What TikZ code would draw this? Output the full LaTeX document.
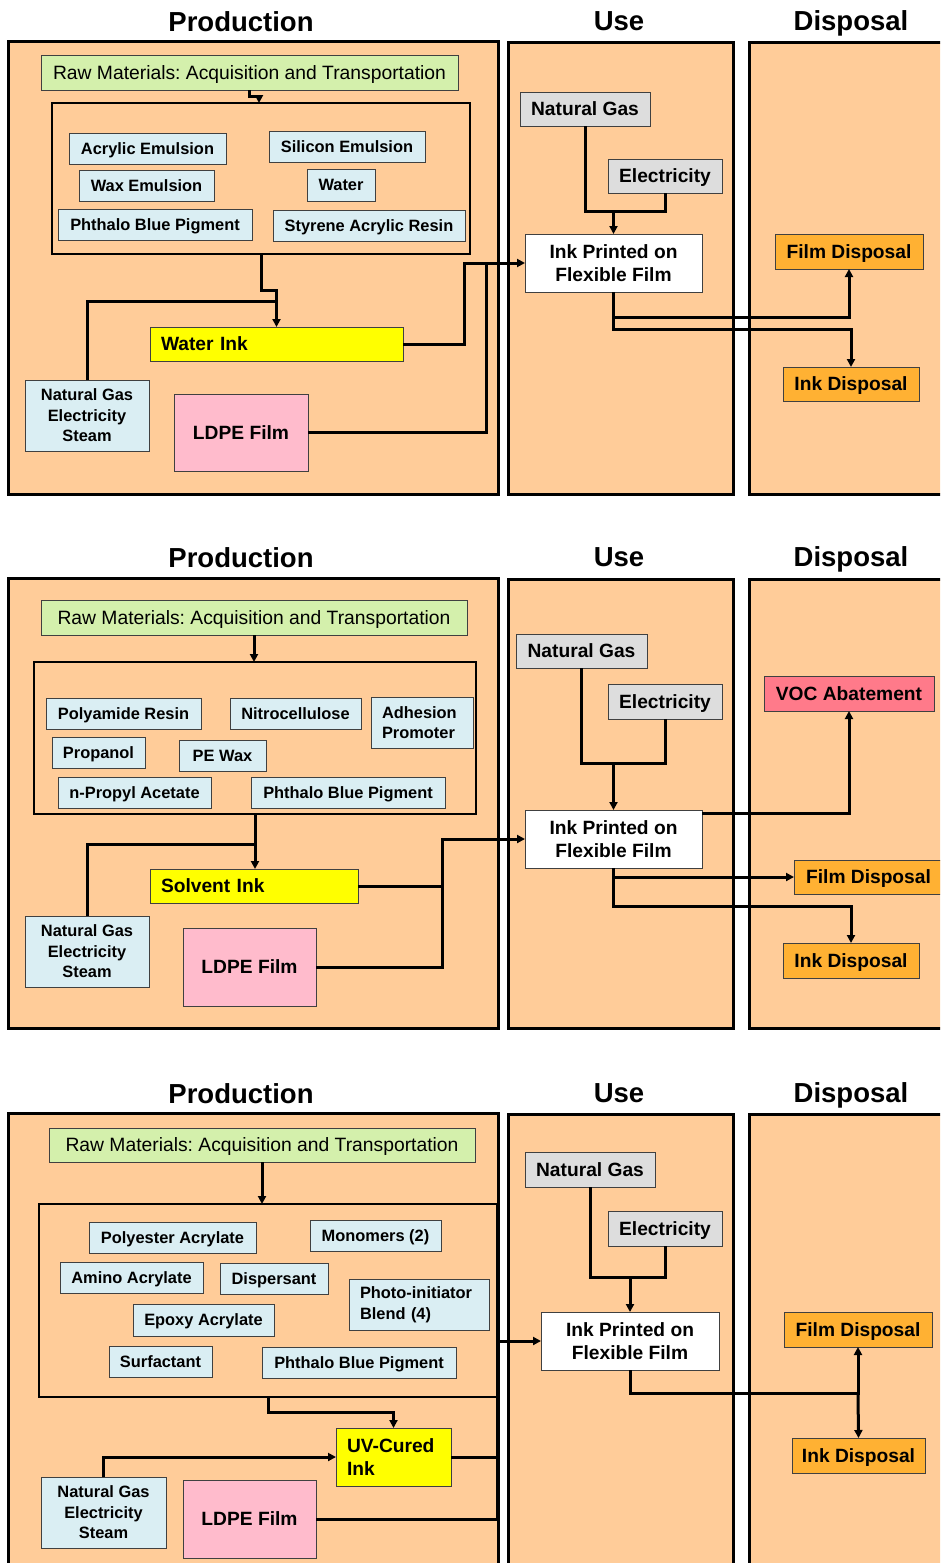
\documentclass[tikz,border=0pt]{standalone}
\usepackage{fontspec}
\setmainfont{Liberation Sans}
\usetikzlibrary{arrows.meta}
\frenchspacing
\definecolor{peach}{HTML}{FFCC99}
\definecolor{lblue}{HTML}{DAEEF3}
\definecolor{lgreen}{HTML}{D4F0AC}
\definecolor{lgray}{HTML}{DDDDDD}
\definecolor{dorange}{HTML}{FFB133}
\definecolor{vocred}{HTML}{FF7A8A}
\definecolor{ldpepink}{HTML}{FFBBCC}
\definecolor{inkyellow}{HTML}{FFFF00}
\definecolor{itemline}{HTML}{404040}
\newcommand\mybox[7]{\node[#2, minimum width={(#5)-(#3)}, minimum height={(#6)-(#4)}] (#1) at ({((#3)+(#5))/2},{((#4)+(#6))/2}) {#7};}
\tikzset{
  panelbox/.style={draw=black, line width=3pt, fill=peach},
  titletext/.style={anchor=base, inner sep=0pt, font=\fontsize{27.5}{33}\selectfont\bfseries},
  ingrbox/.style={draw=black, line width=1.5pt, inner sep=0pt, outer sep=0pt},
  itemml/.style={draw=itemline, line width=1pt, fill=lblue, inner sep=0pt, outer sep=0pt, align=center, font=\fontsize{16.4}{20.5}\selectfont\bfseries},
  itembox/.style={itemml, text height=11.8pt, text depth=0pt},
  leftitem/.style={itemml, align=left, text width=#1, inner xsep=11pt},
  rawbox/.style={draw=itemline, line width=1pt, fill=lgreen, inner sep=0pt, outer sep=0pt, font=\fontsize{19.3}{23}\selectfont, text height=13.9pt, text depth=0pt},
  bigml/.style={draw=itemline, line width=1pt, inner sep=0pt, outer sep=0pt, align=center, font=\fontsize{19.2}{23}\selectfont\bfseries},
  bigbox/.style={bigml, text height=13.8pt, text depth=0pt},
  inkbox/.style={bigbox, fill=inkyellow, align=left, text width=#1, inner xsep=11pt},
  inkml/.style={bigml, fill=inkyellow, align=left, text width=#1, inner xsep=11pt},
  gasbox/.style={bigbox, fill=lgray},
  printbox/.style={bigml, fill=white},
  dispbox/.style={bigbox, fill=dorange},
  vocbox/.style={bigbox, fill=vocred},
  ldpebox/.style={bigbox, fill=ldpepink},
  conn/.style={line width=3pt, line join=miter},
  connarr/.style={conn, -{Triangle[length=8pt,width=8pt]}}
}
\begin{document}
\begin{tikzpicture}[x=1pt,y=-1pt]
\useasboundingbox (0,0) rectangle (940,1563);
\clip (0,0) rectangle (940,1563);
% ---------- panel 1 ----------
\node[titletext] (t1p) at (241,32) {Production};
\node[titletext] (t1u) at (619,31) {Use};
\node[titletext] (t1d) at (851,31) {Disposal};
\draw[panelbox] (8.5,42) rectangle (498.5,494);
\draw[panelbox] (508.5,43) rectangle (733.5,494);
\draw[panelbox] (749.7,43) rectangle (980,494);
\mybox{rm1}{rawbox}{41}{56}{458}{90}{Raw Materials: Acquisition and Transportation}
\mybox{ing1}{ingrbox}{52}{103}{470}{254}{}
\mybox{a1}{itembox}{69}{133}{226}{164}{Acrylic Emulsion}
\mybox{a2}{itembox}{269}{131}{425}{162}{Silicon Emulsion}
\mybox{a3}{itembox}{79}{170}{214}{201}{Wax Emulsion}
\mybox{a4}{itembox}{307}{169}{375}{201}{Water}
\mybox{a5}{itembox}{58}{209}{252}{240}{Phthalo Blue Pigment}
\mybox{a6}{itembox}{273}{210}{465}{241}{Styrene Acrylic Resin}
\mybox{wi}{inkbox=231pt}{150}{327}{403}{361}{Water Ink}
\mybox{ngp1}{itemml}{25}{380}{149}{451}{Natural Gas\\Electricity\\Steam}
\mybox{ldpe1}{ldpebox}{174}{394}{308}{471}{LDPE Film}
\mybox{ng1}{gasbox}{520}{92}{650}{126}{Natural Gas}
\mybox{el1}{gasbox}{608}{159}{722}{193}{Electricity}
\mybox{ip1}{printbox}{525}{234}{702}{292}{Ink Printed on\\Flexible Film}
\mybox{fd1}{dispbox}{775}{234}{923}{269}{Film Disposal}
\mybox{id1}{dispbox}{783}{367}{919}{401}{Ink Disposal}
\draw[connarr] (rm1.south) -- ++(0,6) -| ([xshift=-2pt]ing1.north);
\draw[conn] (ngp1.north) |- ([yshift=26pt]wi.north);
\draw[connarr] (ing1.south) -- ++(0,36) -| (wi.north);
\draw[connarr] (wi.east) -| ([xshift=-61pt]ip1.west) -- (ip1.west);
\draw[conn] (ldpe1.east) -| ([xshift=-39pt]ip1.west);
\draw[conn] (ng1.south) |- ([yshift=23pt]ip1.north) -| (el1.south);
\draw[connarr] ([yshift=23pt]ip1.north) -- (ip1.north);
\draw[connarr] (ip1.south) -- ++(0,25) -| (fd1.south);
\draw[connarr] (ip1.south) -- ++(0,37) -| (id1.north);
% ---------- panel 2 ----------
\node[titletext] (t2p) at (241,567) {Production};
\node[titletext] (t2u) at (619,566) {Use};
\node[titletext] (t2d) at (851,566) {Disposal};
\draw[panelbox] (8.5,578) rectangle (498.5,1028.5);
\draw[panelbox] (508.5,579) rectangle (733.5,1028.5);
\draw[panelbox] (749.7,579) rectangle (980,1028.5);
\mybox{rm2}{rawbox}{41}{600}{467}{635}{Raw Materials: Acquisition and Transportation}
\mybox{ing2}{ingrbox}{34}{662}{476}{814}{}
\mybox{b1}{itembox}{46}{698}{201}{729}{Polyamide Resin}
\mybox{b2}{itembox}{230}{698}{361}{729}{Nitrocellulose}
\mybox{b3}{leftitem=80pt}{371}{697}{473}{748}{Adhesion\\Promoter}
\mybox{b4}{itembox}{52}{737}{145}{768}{Propanol}
\mybox{b5}{itembox}{179}{740}{266}{771}{PE Wax}
\mybox{b6}{itembox}{58}{777}{211}{808}{n-Propyl Acetate}
\mybox{b7}{itembox}{251}{777}{445}{808}{Phthalo Blue Pigment}
\mybox{si}{inkbox=186pt}{150}{869}{358}{903}{Solvent Ink}
\mybox{ngp2}{itemml}{25}{916}{149}{987}{Natural Gas\\Electricity\\Steam}
\mybox{ldpe2}{ldpebox}{183}{928}{316}{1006}{LDPE Film}
\mybox{ng2}{gasbox}{516}{634}{647}{668}{Natural Gas}
\mybox{el2}{gasbox}{608}{684}{722}{719}{Electricity}
\mybox{ip2}{printbox}{525}{810}{702}{868}{Ink Printed on\\Flexible Film}
\mybox{voc}{vocbox}{764}{676}{934}{711}{VOC Abatement}
\mybox{fd2}{dispbox}{794}{860}{943}{894}{Film Disposal}
\mybox{id2}{dispbox}{783}{943}{919}{978}{Ink Disposal}
\draw[connarr] (rm2.south) -- (rm2.south |- ing2.north);
\draw[conn] (ngp2.north) |- ([yshift=25pt]si.north);
\draw[connarr] (ing2.south) -- (ing2.south |- si.north);
\draw[connarr] (si.east) -| ([xshift=-83pt]ip2.west) -- (ip2.west);
\draw[conn] (ldpe2.east) -| ([xshift=-83pt]ip2.west);
\draw[conn] (ng2.south) |- ([yshift=47pt]ip2.north) -| (el2.south);
\draw[connarr] ([yshift=47pt]ip2.north) -- (ip2.north);
\draw[connarr] ([yshift=-3pt]ip2.north east) -| (voc.south);
\draw[connarr] (ip2.south) |- (fd2.west);
\draw[connarr] (ip2.south) -- ++(0,38) -| (id2.north);
% ---------- panel 3 ----------
\node[titletext] (t3p) at (241,1103) {Production};
\node[titletext] (t3u) at (619,1102) {Use};
\node[titletext] (t3d) at (851,1102) {Disposal};
\draw[panelbox] (8.5,1113.5) rectangle (498.5,1600);
\draw[panelbox] (508.5,1114.5) rectangle (733.5,1600);
\draw[panelbox] (749.7,1114.5) rectangle (980,1600);
\mybox{rm3}{rawbox}{49}{1128}{475}{1162}{Raw Materials: Acquisition and Transportation}
\mybox{ing3}{ingrbox}{39}{1204}{497}{1397}{}
\mybox{c1}{itembox}{89}{1222}{256}{1253}{Polyester Acrylate}
\mybox{c2}{itembox}{310}{1220}{441}{1251}{Monomers (2)}
\mybox{c3}{itembox}{60}{1262}{203}{1293}{Amino Acrylate}
\mybox{c4}{itembox}{220}{1263}{328}{1294}{Dispersant}
\mybox{c5}{leftitem=118pt}{349}{1279}{489}{1330}{Photo-initiator\\Blend (4)}
\mybox{c6}{itembox}{133}{1304}{274}{1336}{Epoxy Acrylate}
\mybox{c7}{itembox}{109}{1346}{212}{1377}{Surfactant}
\mybox{c8}{itembox}{262}{1347}{456}{1378}{Phthalo Blue Pigment}
\mybox{uv}{inkml=93pt}{336}{1428}{451}{1486}{UV-Cured\\Ink}
\mybox{ngp3}{itemml}{41}{1477}{166}{1548}{Natural Gas\\Electricity\\Steam}
\mybox{ldpe3}{ldpebox}{183}{1480}{316}{1558}{LDPE Film}
\mybox{ng3}{gasbox}{525}{1152}{655}{1187}{Natural Gas}
\mybox{el3}{gasbox}{608}{1211}{722}{1246}{Electricity}
\mybox{ip3}{printbox}{541}{1312}{719}{1370}{Ink Printed on\\Flexible Film}
\mybox{fd3}{dispbox}{784}{1312}{932}{1347}{Film Disposal}
\mybox{id3}{dispbox}{792}{1438}{925}{1473}{Ink Disposal}
\draw[connarr] (rm3.south) -- (rm3.south |- ing3.north);
\draw[connarr] (ing3.south) -- ++(0,15) -| (uv.north);
\draw[connarr] (ngp3.north) |- (uv.west);
\draw[connarr] (uv.east) -| ([xshift=-44pt]ip3.west) -- (ip3.west);
\draw[conn] (ldpe3.east) -| ([xshift=-44pt]ip3.west);
\draw[conn] (ng3.south) |- ([yshift=35pt]ip3.north) -| (el3.south);
\draw[connarr] ([yshift=35pt]ip3.north) -- (ip3.north);
\draw[connarr] (ip3.south) -- ++(0,23) -| (fd3.south);
\draw[connarr] ([yshift=-23pt]ip3.south -| fd3.south) -- (id3.north);
\end{tikzpicture}
\end{document}
